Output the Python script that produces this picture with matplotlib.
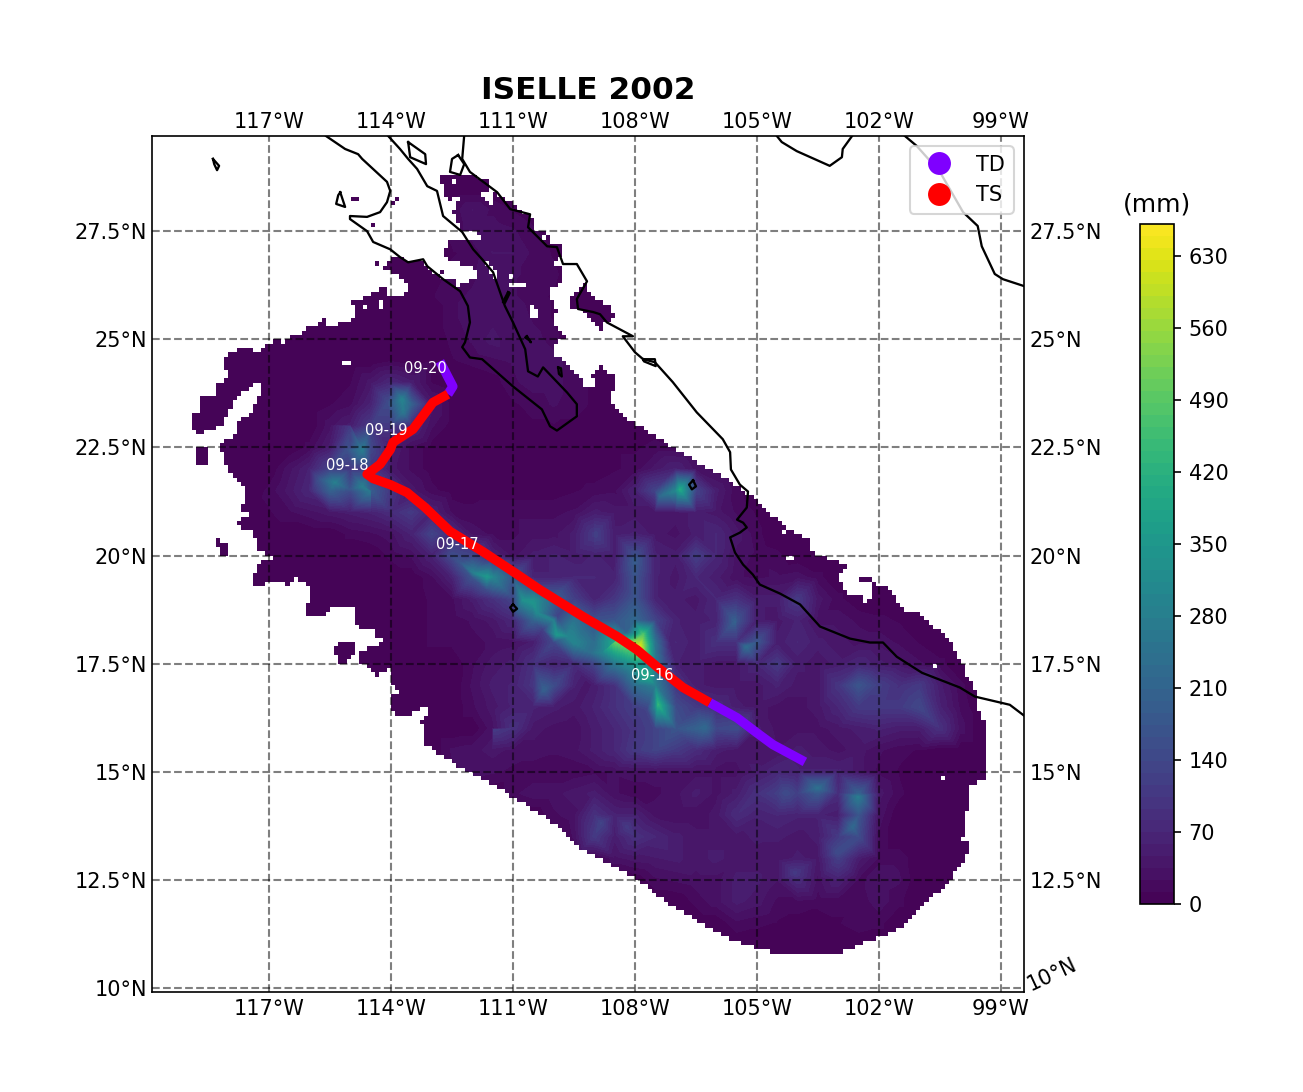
import numpy as np
import matplotlib
matplotlib.use("Agg")
import matplotlib.pyplot as plt
import matplotlib.tri as mtri
from matplotlib.path import Path

# ----- Data -----
storm_title = "ISELLE 2002"

lon_ticks = [-117, -114, -111, -108, -105, -102, -99]
lon_labels = ["117°W", "114°W", "111°W", "108°W", "105°W", "102°W", "99°W"]
lat_ticks = [10, 12.5, 15, 17.5, 20, 22.5, 25, 27.5]
lat_labels = ["10°N", "12.5°N", "15°N", "17.5°N", "20°N", "22.5°N", "25°N", "27.5°N"]
cbar_ticks = [0, 70, 140, 210, 280, 350, 420, 490, 560, 630]
rain_max = 661

# rain on a half degree grid: (lat, first lon, values going east)
rain_rows = [
    (28.0, -112.5, [15, 35, 20, 10]),
    (27.5, -112.5, [15, 30, 30, 25, 15]),
    (27.0, -112.5, [10, 15, 35, 35, 20, 10]),
    (26.5, -113.0, [5, 15, 20, 30, 25, 20, 15]),
    (26.0, -113.5, [5, 10, 20, 25, 25, 25, 15, 10, 10, 10]),
    (25.5, -112.5, [20, 30, 30, 35, 20, 10]),
    (25.0, -112.5, [15, 25, 40, 25, 30, 15]),
    (24.5, -114.0, [10, 0, 10, 10, 15, 20, 25, 25, 30, 15, 5]),
    (24.0, -115.0, [10, 40, 70, 50, 10, 0, 0, 5, 20, 30, 30, 15, 10, 5]),
    (23.5, -115.5, [10, 20, 60, 180, 200, 40, 5, 0, 0, 10, 15, 25, 15, 10, 10]),
    (23.0, -115.5, [30, 50, 110, 110, 70, 25, 5, 0, 0, 5, 10, 10, 10, 10, 10, 10, 5]),
    (22.5, -116.0, [15, 50, 140, 140, 50, 20, 5, 0, 0, 0, 5, 5, 5, 5, 5, 10, 10, 15, 15, 10]),
    (22.0, -116.5, [30, 60, 130, 100, 100, 40, 20, 5, 5, 5, 5, 5, 5, 5, 5, 5, 10, 15, 40, 60, 30, 15]),
    (21.5, -117.0, [15, 40, 70, 200, 150, 190, 100, 40, 15, 5, 5, 5, 5, 5, 5, 10, 15, 20, 60, 130, 300, 130, 50, 15]),
    (21.0, -117.5, [5, 10, 20, 30, 40, 50, 60, 80, 110, 60, 20, 15, 20, 20, 20, 20, 25, 50, 40, 40, 40, 40, 50, 40, 20, 10]),
    (20.5, -115.0, [15, 20, 30, 60, 130, 80, 30, 20, 20, 30, 30, 50, 110, 50, 60, 40, 30, 50, 70, 40, 15]),
    (20.0, -114.0, [15, 25, 60, 150, 130, 60, 30, 50, 60, 50, 60, 50, 160, 60, 50, 120, 70, 30, 20, 15]),
    (19.5, -113.0, [20, 60, 170, 300, 170, 60, 60, 70, 70, 60, 170, 60, 40, 70, 50, 25, 20, 25, 30, 15]),
    (19.0, -113.0, [15, 20, 50, 90, 130, 320, 200, 120, 60, 100, 170, 60, 50, 40, 70, 90, 50, 50, 110, 40, 15]),
    (18.5, -113.0, [15, 15, 25, 40, 70, 200, 280, 250, 160, 170, 220, 130, 60, 50, 60, 170, 50, 40, 60, 30, 30, 20, 15, 10]),
    (18.0, -113.0, [15, 15, 20, 25, 30, 50, 140, 300, 230, 400, 560, 240, 70, 50, 90, 90, 170, 50, 70, 50, 40, 30, 30, 20, 10]),
    (17.5, -112.0, [20, 40, 50, 90, 60, 80, 130, 260, 350, 260, 60, 50, 40, 40, 70, 110, 50, 40, 50, 70, 50, 40, 25, 15]),
    (17.0, -112.0, [25, 50, 60, 100, 150, 60, 50, 90, 230, 280, 100, 50, 40, 40, 40, 60, 40, 40, 100, 170, 120, 90, 110, 50, 15]),
    (16.5, -112.0, [20, 40, 60, 60, 50, 40, 60, 90, 120, 300, 150, 110, 80, 50, 40, 30, 30, 40, 70, 110, 110, 110, 140, 60, 20]),
    (16.0, -111.5, [30, 90, 40, 30, 25, 50, 70, 100, 130, 170, 200, 140, 150, 50, 30, 30, 30, 40, 50, 60, 50, 50, 90, 30]),
    (15.5, -112.5, [25, 30, 40, 30, 30, 25, 30, 50, 70, 110, 130, 110, 80, 50, 40, 40, 35, 50, 40, 30, 40, 25, 15, 10]),
    (15.0, -112.5, [20, 30, 25, 20, 15, 15, 15, 20, 25, 30, 30, 30, 30, 30, 30, 50, 70, 60, 60, 60, 40, 20, 10]),
    (14.5, -111.0, [20, 30, 30, 40, 50, 25, 15, 20, 30, 50, 30, 50, 90, 120, 120, 180, 80, 200, 40, 15]),
    (14.0, -110.0, [20, 30, 90, 60, 60, 30, 25, 25, 40, 80, 60, 70, 60, 60, 50, 170, 30]),
    (13.5, -109.5, [25, 110, 50, 90, 70, 50, 40, 40, 40, 50, 50, 40, 50, 110, 150, 20]),
    (13.0, -108.5, [30, 40, 45, 50, 40, 50, 40, 40, 35, 50, 40, 120, 50, 20, 20]),
    (12.5, -107.5, [20, 25, 30, 30, 50, 50, 35, 80, 30, 60, 20, 30, 25]),
    (12.0, -106.5, [15, 30, 50, 40, 20, 20, 15, 15, 15, 30, 15]),
    (11.5, -105.5, [20, 15, 10, 5, 5, 10, 20, 15]),
]

# local peaks and dips that fall between the grid nodes
extra_lons = [
    -107.80, -107.88, -108.49, -108.79, -109.11, -108.05, -107.70, -107.43, -107.14, -107.70, -108.20, -107.31,
    -107.14, -109.18, -111.64, -111.98, -111.64, -112.30, -110.51, -110.75, -110.41, -109.92, -109.65, -109.92,
    -110.26, -113.73, -113.70, -114.07, -114.71, -115.08, -115.01, -115.38, -115.75, -114.71, -115.01, -114.52,
    -106.89, -107.39, -103.50, -102.52, -102.64, -103.01, -104.07, -110.24, -107.39, -106.28, -111.47, -105.27,
    -105.54, -108.84, -108.20, -104.29, -108.98, -108.00,
]
extra_lats = [
    18.17, 17.87, 17.99, 17.76, 17.76, 17.66, 17.20, 16.55, 16.60, 16.44, 18.22, 17.52,
    17.99, 17.06, 19.51, 19.61, 19.21, 19.84, 18.91, 18.98, 18.68, 18.17, 18.13, 18.59,
    18.29, 23.61, 23.31, 23.54, 22.43, 22.45, 22.99, 21.69, 21.76, 21.60, 21.53, 21.48,
    21.53, 21.37, 14.63, 14.42, 13.73, 13.13, 12.66, 16.90, 15.58, 16.02, 15.97, 17.89,
    18.47, 13.82, 13.73, 14.51, 20.49, 19.91,
]
extra_rain = [
    480, 640, 500, 300, 230, 420, 400, 430, 200, 130, 200, 170,
    60, 40, 350, 280, 150, 170, 340, 330, 310, 350, 300, 130,
    120, 290, 260, 150, 270, 160, 110, 280, 170, 280, 170, 260,
    400, 220, 240, 270, 220, 150, 110, 200, 140, 220, 110, 230,
    200, 130, 110, 150, 125, 190,
]

# where it rained at all, lon/lat
footprint_main = [
    (-112.80, 28.82), (-111.89, 28.75), (-111.61, 28.64), (-111.61, 28.47), (-111.00, 28.13), (-110.63, 27.85),
    (-110.39, 27.83), (-110.58, 27.59), (-110.09, 27.39), (-110.09, 27.15), (-109.80, 27.20), (-109.80, 27.02),
    (-110.02, 26.69), (-109.77, 26.74), (-109.77, 26.32), (-110.16, 26.09), (-109.92, 25.63), (-110.04, 25.39),
    (-109.72, 25.05), (-110.04, 24.84), (-110.04, 24.58), (-109.77, 24.54), (-109.23, 23.91), (-108.93, 23.89),
    (-109.11, 24.19), (-108.86, 24.38), (-108.49, 24.12), (-108.57, 23.70), (-108.57, 23.50), (-108.20, 23.15),
    (-107.39, 22.69), (-106.48, 22.15), (-105.47, 21.60), (-105.00, 21.25), (-104.61, 20.90), (-104.19, 20.60),
    (-103.70, 20.37), (-103.75, 20.07), (-103.45, 20.02), (-102.71, 19.72), (-102.96, 19.63), (-102.96, 19.38),
    (-102.79, 19.14), (-102.39, 19.10), (-102.34, 18.91), (-102.15, 19.14), (-102.22, 19.38), (-102.52, 19.42),
    (-102.52, 19.51), (-102.30, 19.51), (-102.05, 19.33), (-101.90, 19.33), (-101.61, 19.10), (-101.66, 18.98),
    (-101.31, 18.70), (-101.07, 18.70), (-100.80, 18.40), (-100.57, 18.29), (-100.20, 17.99), (-100.08, 17.59),
    (-99.89, 17.41), (-99.96, 17.29), (-99.71, 17.01), (-99.59, 16.71), (-99.59, 16.51), (-99.39, 16.04),
    (-99.39, 14.82), (-99.59, 14.77), (-99.74, 14.70), (-99.86, 14.75), (-99.79, 14.58), (-99.79, 14.19),
    (-99.91, 13.96), (-99.96, 13.43), (-99.79, 13.31), (-99.91, 12.96), (-100.28, 12.50), (-101.02, 11.81),
    (-101.46, 11.41), (-102.00, 11.18), (-102.64, 10.95), (-103.06, 10.81), (-104.61, 10.81), (-105.00, 10.93),
    (-105.64, 11.11), (-106.28, 11.46), (-107.09, 11.88), (-108.00, 12.55), (-108.57, 12.85), (-109.48, 13.31),
    (-110.02, 13.82), (-111.02, 14.42), (-111.57, 14.75), (-112.20, 15.05), (-112.87, 15.46), (-113.19, 15.67),
    (-113.19, 15.97), (-113.29, 16.13), (-113.07, 16.32), (-113.16, 16.55), (-113.61, 16.25), (-113.98, 16.37),
    (-113.95, 16.51), (-113.98, 16.83), (-113.73, 16.83), (-113.98, 16.97), (-114.02, 17.41), (-114.39, 17.20),
    (-114.57, 17.43), (-114.81, 17.55), (-114.81, 17.82), (-114.47, 17.87), (-114.15, 18.01), (-114.44, 18.13),
    (-114.44, 18.29), (-114.81, 18.33), (-114.93, 18.52), (-114.93, 18.80), (-115.43, 18.82), (-115.70, 18.59),
    (-116.11, 18.59), (-116.11, 18.82), (-116.02, 18.94), (-116.02, 19.28), (-116.31, 19.49), (-116.56, 19.33),
    (-116.93, 19.45), (-117.15, 19.33), (-117.42, 19.33), (-117.42, 19.51), (-117.22, 19.84), (-116.90, 19.91),
    (-116.98, 20.02), (-117.34, 20.09), (-117.34, 20.37), (-117.47, 20.60), (-117.71, 20.60), (-117.81, 20.79),
    (-117.47, 20.95), (-117.79, 21.11), (-117.64, 21.23), (-117.64, 21.60), (-118.01, 21.99), (-118.20, 22.52),
    (-117.84, 22.85), (-117.84, 23.03), (-117.42, 23.33), (-117.15, 23.91), (-117.27, 24.01), (-117.76, 23.68),
    (-117.96, 23.43), (-118.13, 22.99), (-118.57, 22.87), (-118.82, 22.73), (-118.89, 23.22), (-118.70, 23.38),
    (-118.70, 23.73), (-118.33, 23.73), (-118.33, 23.91), (-118.03, 24.14), (-118.11, 24.61), (-117.66, 24.82),
    (-117.22, 24.72), (-116.80, 25.05), (-116.68, 25.00), (-116.61, 24.84), (-116.48, 25.12), (-116.16, 25.16),
    (-116.11, 25.30), (-115.80, 25.35), (-115.57, 25.53), (-115.55, 25.28), (-115.18, 25.39), (-114.84, 25.51),
    (-115.01, 25.93), (-114.69, 25.93), (-114.22, 26.23), (-113.98, 25.97), (-113.53, 26.11), (-113.73, 26.39),
    (-113.98, 26.55), (-114.22, 26.62), (-114.02, 26.85), (-113.85, 26.92), (-113.53, 26.74), (-113.21, 26.85),
    (-113.09, 26.62), (-112.80, 26.44), (-112.38, 26.44), (-112.35, 26.23), (-111.89, 26.46), (-111.86, 26.62),
    (-112.25, 26.71), (-112.72, 26.92), (-112.60, 27.25), (-111.81, 27.27), (-111.89, 27.48), (-112.30, 27.55),
    (-112.50, 27.96), (-112.30, 28.31), (-112.43, 28.36), (-112.62, 28.17), (-112.72, 28.47),
]
footprint_patches = [
    [(-118.77, 22.52), (-118.50, 22.52), (-118.50, 22.11), (-118.77, 22.11)],
    [(-118.30, 20.37), (-118.01, 20.30), (-118.01, 19.95), (-118.20, 19.95)],
    [(-115.38, 17.82), (-115.20, 18.01), (-114.89, 18.01), (-114.89, 17.76), (-115.13, 17.52), (-115.30, 17.52)],
    [(-109.55, 26.00), (-109.28, 26.32), (-109.11, 26.02), (-108.57, 25.74), (-108.54, 25.46), (-108.86, 25.39),
     (-108.74, 25.16), (-108.93, 25.23), (-109.23, 25.63), (-109.60, 25.70)],
    [(-115.01, 28.24), (-114.81, 28.33), (-114.81, 28.13)],
    [(-114.59, 28.20), (-114.49, 28.20), (-114.49, 28.10)],
    [(-114.22, 28.31), (-114.05, 28.33), (-114.07, 28.20)],
    [(-114.02, 28.15), (-113.78, 28.31), (-113.88, 28.13)],
    [(-114.52, 27.73), (-114.39, 27.73), (-114.49, 27.59)],
    [(-113.68, 27.64), (-113.61, 27.66), (-113.61, 27.59)],
    [(-114.52, 26.81), (-114.32, 26.81), (-114.32, 26.67)],
    [(-112.80, 26.62), (-112.67, 26.62), (-112.80, 26.48)],
]
footprint_holes = [
    [(-111.76, 26.92), (-111.44, 26.62), (-111.44, 26.34), (-111.61, 26.62)],
    [(-111.12, 26.51), (-110.95, 26.51), (-111.12, 26.34)],
    [(-111.07, 26.27), (-110.70, 26.34), (-110.75, 26.16), (-111.00, 26.16)],
    [(-110.66, 25.74), (-110.51, 25.86), (-110.34, 25.53), (-110.63, 25.53)],
    [(-111.76, 28.43), (-111.44, 28.31), (-111.57, 28.06), (-111.76, 28.29)],
    [(-112.52, 28.66), (-112.45, 28.73), (-112.40, 28.66), (-112.47, 28.59)],
    [(-110.36, 27.32), (-110.29, 27.39), (-110.22, 27.32), (-110.29, 27.25)],
    [(-115.25, 24.38), (-115.13, 24.56), (-115.01, 24.47), (-115.08, 24.33)],
    [(-114.76, 25.74), (-114.69, 25.81), (-114.57, 25.70), (-114.69, 25.63)],
    [(-114.34, 25.86), (-114.22, 25.90), (-114.12, 25.81), (-114.27, 25.72)],
    [(-113.68, 26.51), (-113.61, 26.58), (-113.53, 26.51), (-113.61, 26.46)],
    [(-104.36, 20.02), (-104.02, 20.02), (-104.21, 19.84)],
    [(-104.42, 20.53), (-104.36, 20.59), (-104.30, 20.53), (-104.36, 20.47)],
    [(-100.73, 17.43), (-100.67, 17.49), (-100.61, 17.43), (-100.67, 17.37)],
    [(-100.49, 14.82), (-100.43, 14.88), (-100.37, 14.82), (-100.43, 14.76)],
    [(-100.36, 14.21), (-100.30, 14.27), (-100.24, 14.21), (-100.30, 14.15)],
    [(-114.39, 16.71), (-114.32, 16.78), (-114.20, 16.60), (-114.32, 16.51)],
]

# coast lines, lon/lat
coast_baja = [
    (-115.60, 29.70), (-115.13, 29.40), (-114.81, 29.28), (-114.71, 29.17), (-114.10, 28.64), (-114.02, 28.43),
    (-114.10, 28.17), (-114.27, 27.94), (-114.59, 27.83), (-115.01, 27.85), (-115.01, 27.78), (-114.59, 27.50),
    (-114.44, 27.25), (-114.02, 27.08), (-113.78, 26.90), (-113.58, 26.78), (-113.21, 26.85), (-113.11, 26.69),
    (-112.72, 26.39), (-112.30, 26.11), (-112.11, 25.77), (-112.06, 25.39), (-112.18, 24.93), (-112.25, 24.82),
    (-112.06, 24.58), (-111.76, 24.54), (-111.00, 23.91), (-110.29, 23.38), (-110.09, 22.99), (-109.92, 22.89),
    (-109.43, 23.22), (-109.43, 23.50), (-109.67, 23.77), (-110.26, 24.35), (-110.39, 24.14), (-110.63, 24.26),
    (-110.70, 24.77), (-111.00, 25.39), (-111.20, 25.77), (-111.49, 26.55), (-111.76, 26.85), (-111.98, 27.08),
    (-112.25, 27.48), (-112.72, 27.85), (-112.87, 28.43), (-113.11, 28.54), (-113.36, 28.94), (-113.58, 29.17),
    (-113.78, 29.40), (-114.07, 29.70),
]
coast_mainland = [
    (-112.20, 29.72), (-112.25, 29.17), (-112.06, 28.87), (-111.39, 28.40), (-111.07, 28.01), (-110.58, 27.89),
    (-110.63, 27.59), (-110.16, 27.15), (-109.92, 27.13), (-109.77, 26.74), (-109.43, 26.74), (-109.18, 26.34),
    (-109.43, 25.93), (-109.40, 25.70), (-109.03, 25.63), (-108.86, 25.58), (-108.69, 25.39), (-108.05, 25.07),
    (-108.30, 25.07), (-108.00, 24.70), (-107.80, 24.54), (-107.51, 24.47), (-107.07, 24.01), (-106.48, 23.31),
    (-105.84, 22.69), (-105.66, 22.39), (-105.64, 21.99), (-105.42, 21.64), (-105.22, 21.48), (-105.25, 21.11),
    (-105.49, 20.83), (-105.34, 20.76), (-105.25, 20.65), (-105.42, 20.53), (-105.66, 20.42), (-105.54, 20.07),
    (-105.34, 19.79), (-105.10, 19.56), (-104.93, 19.33), (-104.43, 19.12), (-103.94, 18.87), (-103.45, 18.36),
    (-102.71, 18.08), (-102.22, 17.99), (-101.90, 17.99), (-101.56, 17.66), (-100.94, 17.29), (-100.01, 16.95),
    (-99.64, 16.74), (-98.78, 16.55), (-98.43, 16.30),
]
coast_north_a = [(-104.51, 29.70), (-104.39, 29.56), (-104.02, 29.35), (-103.21, 29.01), (-102.91, 29.21), (-102.89, 29.40), (-102.66, 29.70)]
coast_north_b = [(-101.36, 29.70), (-101.07, 29.47), (-100.50, 28.87), (-99.93, 27.94), (-99.57, 27.62), (-99.47, 27.15), (-99.15, 26.51), (-98.95, 26.39), (-98.43, 26.23)]
islands = [
    [(-118.38, 29.17), (-118.23, 29.01), (-118.28, 28.91), (-118.35, 29.05)],
    [(-115.25, 28.40), (-115.13, 28.06), (-115.35, 28.13), (-115.30, 28.33)],
    [(-113.58, 29.56), (-113.16, 29.28), (-113.14, 29.05), (-113.53, 29.21)],
    [(-112.35, 29.26), (-112.50, 29.17), (-112.55, 28.87), (-112.30, 28.80), (-112.20, 29.05)],
    [(-111.12, 26.09), (-111.08, 26.07), (-111.20, 25.84), (-111.25, 25.86)],
    [(-110.66, 25.07), (-110.56, 24.93), (-110.60, 24.98), (-110.70, 25.04)],
    [(-109.89, 24.35), (-109.82, 24.33), (-109.80, 24.14), (-109.87, 24.20)],
    [(-107.80, 24.54), (-107.51, 24.54), (-107.49, 24.38), (-107.78, 24.49)],
    [(-106.57, 21.74), (-106.50, 21.60), (-106.60, 21.53), (-106.67, 21.64)],
    [(-111.00, 18.87), (-110.90, 18.77), (-111.00, 18.70), (-111.07, 18.80)],
]

# storm track, lon/lat
track_td_south = [(-103.82, 15.23), (-104.61, 15.63), (-105.00, 15.90), (-105.49, 16.25), (-106.16, 16.60)]
track_ts = [
    (-106.16, 16.60), (-106.82, 16.95), (-107.46, 17.43), (-107.95, 17.82), (-108.44, 18.13), (-109.28, 18.59),
    (-110.34, 19.21), (-111.00, 19.63), (-111.74, 20.09), (-112.55, 20.56), (-113.16, 21.11), (-113.61, 21.46),
    (-114.02, 21.64), (-114.44, 21.78), (-114.59, 21.88), (-114.27, 22.11), (-114.02, 22.45), (-113.95, 22.62),
    (-113.46, 22.92), (-112.97, 23.54), (-112.60, 23.73),
]
track_td_north = [(-112.60, 23.73), (-112.48, 23.91), (-112.80, 24.49)]
date_labels = ["09-16", "09-17", "09-18", "09-19", "09-20"]
date_lons = [-108.10, -112.89, -115.60, -114.64, -113.68]
date_lats = [17.22, 20.26, 22.08, 22.89, 24.33]


# ----- Helpers -----
def rain_points():
    lons = np.arange(-120, -97.5, 0.5)
    lats = np.arange(9.5, 30.5, 0.5)
    rain = np.zeros((len(lats), len(lons)))
    for lat, first_lon, values in rain_rows:
        row = np.searchsorted(lats, lat)
        col = np.searchsorted(lons, first_lon)
        rain[row, col:col + len(values)] = values
    xx, yy = np.meshgrid(lons, lats)
    xs = np.concatenate([xx.ravel(), extra_lons])
    ys = np.concatenate([yy.ravel(), extra_lats])
    zs = np.concatenate([rain.ravel(), extra_rain])
    return xs, ys, zs


def dry_mask():
    # white tenth of a degree cells over everything outside the footprint
    lons = np.arange(-120, -98, 0.1) + 0.05
    lats = np.arange(9.5, 30, 0.1) + 0.05
    xx, yy = np.meshgrid(lons, lats)
    cells = np.column_stack([xx.ravel(), yy.ravel()])
    wet = np.zeros(len(cells), dtype=bool)
    for ring in [footprint_main] + footprint_patches:
        wet |= Path(ring + ring[:1]).contains_points(cells)
    for ring in footprint_holes:
        wet &= ~Path(ring + ring[:1]).contains_points(cells)
    img = np.ones((len(lats), len(lons), 4))
    img[..., 3] = (~wet).reshape(xx.shape).astype(float)
    return img, (lons[0] - 0.05, lons[-1] + 0.05, lats[0] - 0.05, lats[-1] + 0.05)


def draw_line(ax, points, **kwargs):
    xs, ys = zip(*points)
    ax.plot(xs, ys, **kwargs)


# ----- Figure -----
fig = plt.figure(figsize=(8.687, 7.28), dpi=150)
W, H = 1303, 1092
ax = fig.add_axes([152 / W, (H - 992) / H, 872 / W, 856 / H])
cax = fig.add_axes([1140 / W, (H - 904) / H, 34 / W, 680 / H])

xs, ys, zs = rain_points()
levels = np.linspace(0, rain_max, 58)
cs = ax.tricontourf(mtri.Triangulation(xs, ys), zs, levels=levels, cmap="viridis", zorder=1)
img, extent = dry_mask()
ax.imshow(img, extent=extent, origin="lower", aspect="auto", interpolation="nearest", zorder=1.5)

for line in [coast_baja, coast_mainland, coast_north_a, coast_north_b]:
    draw_line(ax, line, color="k", lw=1.1, zorder=2)
for ring in islands:
    draw_line(ax, ring + ring[:1], color="k", lw=1.1, zorder=2)

draw_line(ax, track_td_south, color="#7f00ff", lw=4.5, solid_capstyle="butt", zorder=3)
draw_line(ax, track_td_north, color="#7f00ff", lw=4.5, solid_capstyle="butt", zorder=3)
draw_line(ax, track_ts, color="#ff0000", lw=4.5, solid_capstyle="butt", zorder=3.1)
for label, lon, lat in zip(date_labels, date_lons, date_lats):
    ax.text(lon, lat, label, color="white", fontsize=7, ha="left", va="center", zorder=4)

ax.plot([], [], "o", color="#7f00ff", ms=10, label="TD")
ax.plot([], [], "o", color="#ff0000", ms=10, label="TS")
ax.legend(loc="upper right", numpoints=1)

ax.set_xlim(-119.88, -98.43)
ax.set_ylim(9.91, 29.70)
ax.set_xticks(lon_ticks, lon_labels)
ax.set_yticks(lat_ticks, lat_labels)
ax.tick_params(axis="x", length=0, pad=3.5, labelsize=10)
ax.tick_params(axis="y", length=0, pad=2.5, labelsize=10, right=True, labelright=True)
ax.set_axisbelow(False)
ax.grid(True, color="k", alpha=0.5, lw=1.0, ls="--")

top = ax.secondary_xaxis("top")
top.set_xticks(lon_ticks, lon_labels)
top.tick_params(length=0, pad=2, labelsize=10)
top.spines["top"].set_visible(False)

# the bottom right latitude label sits rotated along the frame corner
ax.yaxis.get_major_ticks()[0].label2.set_visible(False)
ax.text(1.032, 0.02, lat_labels[0], transform=ax.transAxes, rotation=25, ha="center", va="center", fontsize=10)

ax.set_title(storm_title, fontsize=15, fontweight="bold")

cbar = fig.colorbar(cs, cax=cax, ticks=cbar_ticks)
cax.set_title("(mm)", fontsize=12)

fig.savefig("out.png", dpi=150)
plt.close(fig)
